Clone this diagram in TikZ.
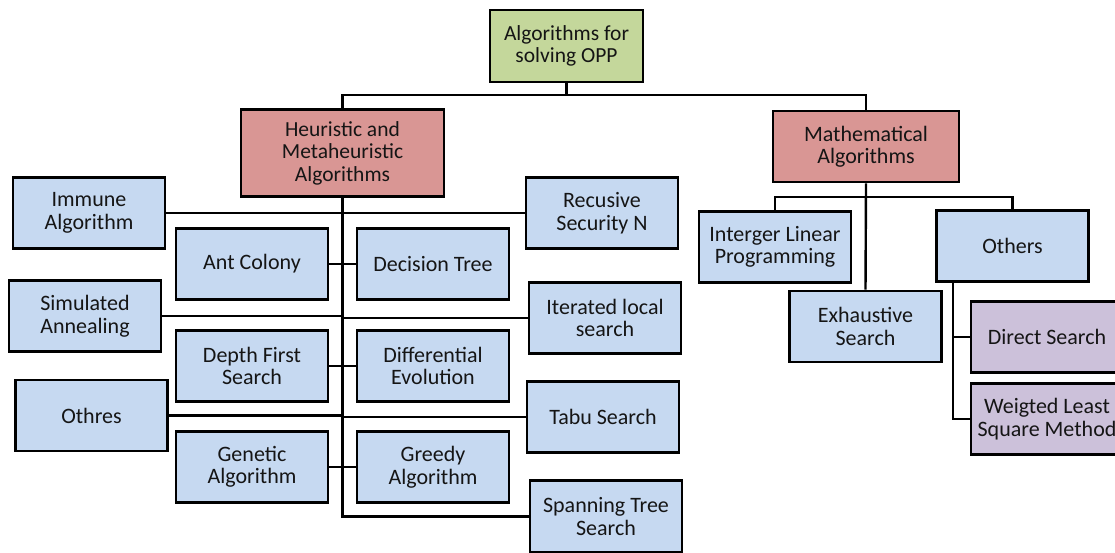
\documentclass[tikz,border=0pt]{standalone}
\usepackage{fontspec}
\setmainfont{Carlito}
\definecolor{bluef}{HTML}{C6D9F1}
\definecolor{redf}{HTML}{D99694}
\definecolor{greenf}{HTML}{C4D79B}
\definecolor{purplef}{HTML}{CCC1DA}
\definecolor{txt}{HTML}{151515}
\begin{document}
\begin{tikzpicture}[x=1pt,y=-1pt,
  box/.style={draw=black, line width=2.6pt, align=center, text=txt,
    font=\fontsize{22}{22.5}\selectfont, inner sep=0pt,
    minimum width=152pt, minimum height=71pt},
  leaf/.style={box, fill=bluef},
  head/.style={box, fill=redf},
  sub/.style={box, fill=purplef},
  conn/.style={line width=2.4pt, black}]
\useasboundingbox (0,0) rectangle (1115,552);
\clip (0,0) rectangle (1115,552);
% top
\node[box, fill=greenf, minimum width=153pt, minimum height=72pt, font=\fontsize{21.5}{22.5}\selectfont] (top) at (566.5,46) {Algorithms for\\solving OPP};
\node[head, minimum width=203pt, minimum height=87pt, font=\fontsize{21.5}{22.5}\selectfont] (heur) at (342.5,153) {Heuristic and\\Metaheuristic\\Algorithms};
\node[head, minimum width=186pt] (math) at (866,146.5) {Mathematical\\Algorithms};
% left cluster
\node[leaf] (immune) at (89,213) {Immune\\Algorithm};
\node[leaf] (recus) at (602,213) {Recusive\\Security N};
\node[leaf] (ant) at (252,264) {Ant Colony};
\node[leaf] (dec) at (433,264) {Decision Tree};
\node[leaf] (sim) at (85,316) {Simulated\\Annealing};
\node[leaf] (iter) at (605,318) {Iterated local\\search};
\node[leaf] (dfs) at (252,366) {Depth First\\Search};
\node[leaf] (de) at (433,366) {Differential\\Evolution};
\node[leaf] (oth) at (91.5,415.5) {Othres};
\node[leaf] (tabu) at (603,417) {Tabu Search};
\node[leaf] (ga) at (252,467) {Genetic\\Algorithm};
\node[leaf] (greedy) at (433,467) {Greedy\\Algorithm};
\node[leaf, minimum height=72pt] (span) at (606,516.5) {Spanning Tree\\Search};
% right cluster
\node[leaf] (ilp) at (775,247) {Interger Linear\\Programming};
\node[leaf] (exh) at (865.5,326.5) {Exhaustive\\Search};
\node[leaf] (others) at (1012.5,246) {Others};
\node[sub] (direct) at (1047,337) {Direct Search};
\node[sub] (wls) at (1047,419) {Weigted Least\\Square Method};
% connectors
\coordinate (j1) at (566.5,95);
\coordinate (j2) at (866,197);
\coordinate (oc) at ([xshift=-59.5pt]others.south);
\draw[conn] (top.south) -- (j1);
\draw[conn] (heur.north) |- (j1) -| (math.north);
\draw[conn] (heur.south) |- (span.west);
\draw[conn] (immune.east) -- (recus.west);
\draw[conn] (ant.east) -- (dec.west);
\draw[conn] (sim.east) -- (sim.east -| heur.south);
\draw[conn] (iter.west -| heur.south) -- (iter.west);
\draw[conn] (dfs.east) -- (de.west);
\draw[conn] (oth.east) -- (oth.east -| heur.south);
\draw[conn] (tabu.west -| heur.south) -- (tabu.west);
\draw[conn] (ga.east) -- (greedy.west);
\draw[conn] (math.south) -- (exh.north);
\draw[conn] (ilp.north) |- (j2) -| (others.north);
\draw[conn] (oc) |- (wls.west);
\draw[conn] (oc |- direct.west) -- (direct.west);
\end{tikzpicture}
\end{document}
